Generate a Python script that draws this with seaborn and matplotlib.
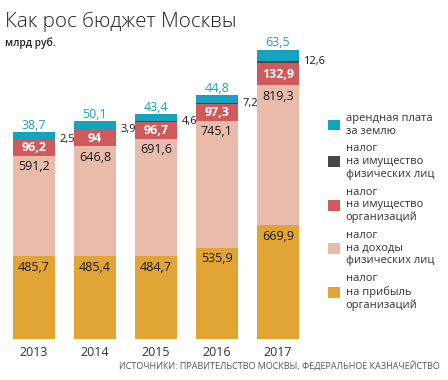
import numpy as np
import matplotlib
matplotlib.use("Agg")
import matplotlib.pyplot as plt
import seaborn as sns
import pandas as pd

years = ["2013", "2014", "2015", "2016", "2017"]
profit_org = [485.7, 485.4, 484.7, 535.9, 669.9]
income_ind = [591.2, 646.8, 691.6, 745.1, 819.3]
property_org = [96.2, 94, 96.7, 97.3, 132.9]
property_ind = [2.5, 3.9, 4.6, 7.2, 12.6]
land_rent = [38.7, 50.1, 43.4, 44.8, 63.5]

labels = ["налог\nна прибыль\nорганизаций",
          "налог\nна доходы\nфизических лиц",
          "налог\nна имущество\nорганизаций",
          "налог\nна имущество\nфизических лиц",
          "арендная плата\nза землю"]
colors = ["#E1A536", "#E9BBAA", "#D05A5B", "#474747", "#14A2BD"]

sns.set_style("white")
plt.rcParams['font.family'] = ['Open Sans', 'DejaVu Sans']

layers = [profit_org, income_ind, property_org, property_ind, land_rent]
cum = np.cumsum(np.array(layers), axis=0)

fig = plt.figure(figsize=(4.48, 3.8), dpi=100)
ax = fig.add_axes([12.5 / 448, 41 / 380, 286.7 / 448, 298 / 380])

df = pd.DataFrame({"year": years})
for k in range(len(layers) - 1, -1, -1):
    df["h"] = cum[k]
    sns.barplot(data=df, x="year", y="h", color=colors[k], width=0.7,
                saturation=1, linewidth=0, ax=ax, label=labels[k])

ax.set_xlim(-0.35, 4.35)
ax.set_ylim(0, 1750)
for s in ax.spines.values():
    s.set_visible(False)
ax.set_yticks([])
ax.set_xlabel("")
ax.set_ylabel("")
ax.tick_params(axis="x", length=0, pad=5, labelsize=9, labelcolor="#333333")

def fmt(v):
    return ("%g" % v).replace(".", ",")

for i in range(len(years)):
    # gold and pink: near top of segment
    for k in (0, 1):
        ax.annotate(fmt(layers[k][i]), (i, cum[k][i]), xytext=(0, -8),
                    textcoords="offset points", ha="center", va="center",
                    fontsize=9, color="#1a1a1a")
    mid = cum[1][i] + property_org[i] / 2
    ax.text(i, mid, fmt(property_org[i]), ha="center", va="center",
            fontsize=9, color="white", fontweight="bold")
    ax.annotate(fmt(property_ind[i]), (i + 0.35, cum[3][i] - property_ind[i] / 2),
                xytext=(3, 0), textcoords="offset points", ha="left",
                va="center", fontsize=8, color="#1a1a1a", annotation_clip=False)
    ax.annotate(fmt(land_rent[i]), (i, cum[4][i]), xytext=(0, 5),
                textcoords="offset points", ha="center", va="center",
                fontsize=9, color="#14A2BD")

h, l = ax.get_legend_handles_labels()
ax.legend(h, l, loc="upper left", bbox_to_anchor=(318 / 448, 1 - 103 / 380),
          bbox_transform=fig.transFigure, frameon=False, fontsize=8,
          handlelength=1.1, handleheight=1.1, handletextpad=0.5,
          labelspacing=0.62, labelcolor="#333333")

fig.text(5 / 448, 1 - 22 / 380, "Как рос бюджет Москвы", fontsize=14.8,
         fontweight="light", color="#222222", va="center", ha="left")
fig.text(5 / 448, 1 - 43 / 380, "млрд руб.", fontsize=7.4, fontweight="semibold",
         color="#222222", va="center", ha="left")
fig.text(440 / 448, 1 - 366 / 380,
         "ИСТОЧНИКИ: ПРАВИТЕЛЬСТВО МОСКВЫ, ФЕДЕРАЛЬНОЕ КАЗНАЧЕЙСТВО",
         fontsize=6.5, color="#555555", va="center", ha="right")

fig.savefig("out.png", dpi=100)
